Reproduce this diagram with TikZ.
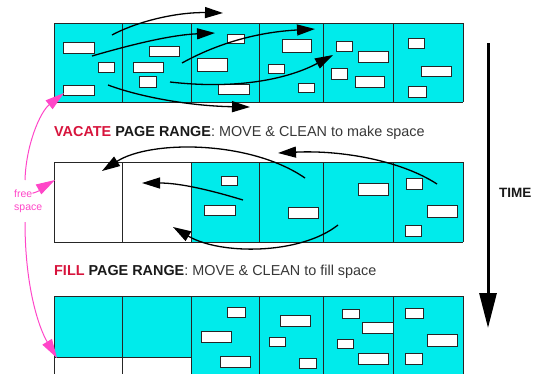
\documentclass[tikz,border=0pt]{standalone}
\usepackage{fontspec}
\setmainfont{Liberation Sans}
\usepackage{tikz}
\usetikzlibrary{arrows.meta,positioning}
\definecolor{pagecyan}{RGB}{0,235,235}
\definecolor{vacred}{RGB}{215,20,60}
\definecolor{freepink}{RGB}{255,70,200}
\definecolor{textgray}{RGB}{55,55,55}
\tikzstyle{arrow} = [line width=1.3pt, -{Triangle[length=18pt,width=11pt]}]
\tikzstyle{pinkarrow} = [freepink, line width=1pt, -{Triangle[length=19pt,width=11pt]}]

\begin{document}
\begin{tikzpicture}[x=1pt,y=-1pt]
\tikzset{obj/.style={draw=black!85,fill=white,line width=0.9pt},
  rowline/.style={draw=black!85,line width=0.9pt},
  caption/.style={anchor=base west,inner sep=0pt,textgray,font=\fontsize{14.4}{17}\selectfont}}
\useasboundingbox (0,0) rectangle (534,373);
\clip (0,0) rectangle (534,373);

\fill[pagecyan] (54,23) rectangle (463,102);
\fill[pagecyan] (191,162) rectangle (463,242);
\fill[pagecyan] (54,296) rectangle (463,380);
\fill[white] (54,357) rectangle (191,380);
\foreach \x in {54,122,191,259,323,393,463} {
\draw[rowline] (\x,23) -- (\x,102);
\draw[rowline] (\x,162) -- (\x,242);
\draw[rowline] (\x,296) -- (\x,380); }
\foreach \y in {23,102,162,242,296} {
\draw[rowline] (54,\y) -- (463,\y); }
\draw[rowline] (54,357) -- (191,357);

\foreach \a/\b/\c/\d in {63/42/94/53, 98/62/114/72, 63/85/94/95, 149/46/179/56, 133/62/163/72,
  139/76/156/87, 227/34/244/43, 197/58/227/71, 218/84/249/94, 282/39/311/52, 268/64/284/73,
  298/83/314/92, 336/41/352/51, 358/51/388/62, 331/68/347/79, 355/76/384/87, 408/38/424/48,
  421/66/451/76, 408/86/426/97} {
\draw[obj] (\a,\b) rectangle (\c,\d); }
\foreach \a/\b/\c/\d in {221/176/237/185, 204/205/235/215, 288/207/318/218, 358/183/388/195,
  406/178/422/189, 427/205/457/217, 405/225/421/236} {
\draw[obj] (\a,\b) rectangle (\c,\d); }
\foreach \a/\b/\c/\d in {227/307/245/317, 201/331/231/342, 220/356/250/367, 280/315/310/326,
  269/337/285/346, 299/358/316/368, 342/309/359/318, 362/322/393/333, 337/339/353/348,
  358/353/388/364, 405/308/423/318, 427/334/457/346, 405/353/422/364} {
\draw[obj] (\a,\b) rectangle (\c,\d); }

\draw[arrow] (112,35) .. controls (140,20) and (180,12) .. (223,13);
\draw[arrow] (92,56) .. controls (130,45) and (170,35) .. (215,33);
\draw[arrow] (108,85) .. controls (140,97) and (190,106) .. (250,107);
\draw[arrow] (182,63) .. controls (220,42) and (260,32) .. (315,29);
\draw[arrow] (170,82) .. controls (240,90) and (290,78) .. (333,55);

\draw[arrow] (437,184) .. controls (400,160) and (340,150) .. (278,153);
\draw[arrow] (305,178) .. controls (250,140) and (150,140) .. (102,171);
\draw[arrow] (243,200) .. controls (210,190) and (180,183) .. (142,183);
\draw[arrow] (338,225) .. controls (300,255) and (220,255) .. (173,227);

\node[caption] (vacate) at (54,136) {\textbf{\textcolor{vacred}{VACATE} \textcolor{black!90}{PAGE RANGE}}: MOVE \& CLEAN to make space};
\node[caption] (fill) at (54,275) {\textbf{\textcolor{vacred}{FILL} \textcolor{black!90}{PAGE RANGE}}: MOVE \& CLEAN to fill space};

\coordinate (timetop) at (488,43);
\coordinate (timeend) at (488,328);
\draw[line width=3pt,-{Triangle[length=35pt,width=17pt]}] (timetop) -- (timeend);
\node[anchor=base west,inner sep=0pt,font=\bfseries\fontsize{13.5}{16}\selectfont,black!90] (time) at (499,197) {TIME};

\node[anchor=base west,inner sep=0pt,freepink,font=\fontsize{10.5}{12}\selectfont] (free) at (14,197) {free};
\node[anchor=base west,inner sep=0pt,freepink,font=\fontsize{10.5}{12}\selectfont] (space) at (14,210) {space};
\draw[pinkarrow] (25,180) .. controls (26,145) and (40,112) .. (64,93);
\draw[pinkarrow] (free.east) .. controls (44,190) and (48,184) .. (55,180);
\draw[pinkarrow] (25,222) .. controls (25,290) and (40,330) .. (57,358);
\end{tikzpicture}
\end{document}
